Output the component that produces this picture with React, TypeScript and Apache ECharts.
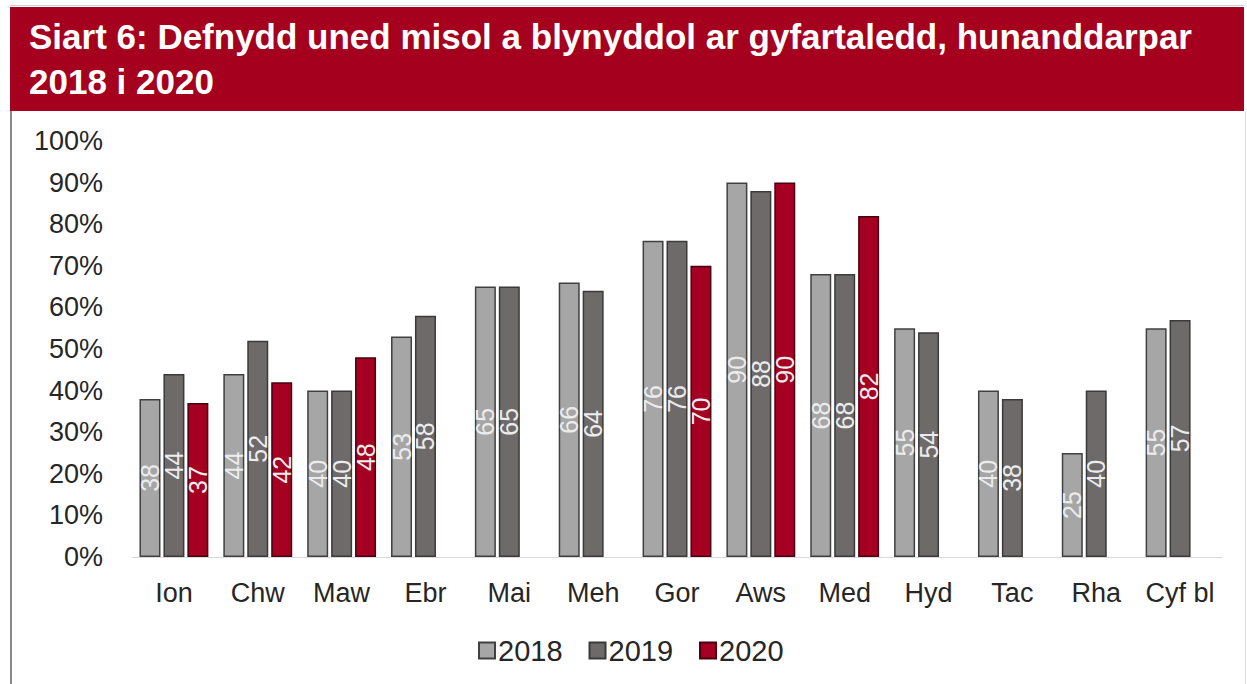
import React, { useEffect, useRef } from "react";
import * as echarts from "echarts";

const categories = ["Ion", "Chw", "Maw", "Ebr", "Mai", "Meh", "Gor", "Aws", "Med", "Hyd", "Tac", "Rha", "Cyf bl"];
const values2018 = [38, 44, 40, 53, 65, 66, 76, 90, 68, 55, 40, 25, 55];
const values2019 = [44, 52, 40, 58, 65, 64, 76, 88, 68, 54, 38, 40, 57];
const values2020: (number | null)[] = [37, 42, 48, null, null, null, 70, 90, 82, null, null, null, null];
const yTicks = { min: 0, max: 100, interval: 10 };
const titleText = "Siart 6: Defnydd uned misol a blynyddol ar gyfartaledd, hunanddarpar\n2018 i 2020";

const FONT = "'Liberation Sans', Arial, sans-serif";

export default function App() {
  const ref = useRef<HTMLDivElement>(null);
  useEffect(() => {
    if (!ref.current) return;
    const chart = echarts.init(ref.current, null, { renderer: "svg" });
    const label = {
      show: true,
      position: "inside" as const,
      rotate: 90,
      color: "#ececec",
      fontSize: 25,
      fontFamily: FONT,
      formatter: (p: any) => String(p.value),
    };
    const mk = (name: string, data: (number | null)[], color: string, border: string) => ({
      name,
      type: "bar" as const,
      data,
      barWidth: 21,
      barGap: "14%",
      itemStyle: { color, borderColor: border, borderWidth: 1.5 },
      label,
    });
    chart.setOption({
      animation: false,
      textStyle: { fontFamily: FONT },
      graphic: [
        { type: "rect", shape: { x: 10, y: 7, width: 1234, height: 104 }, style: { fill: "#a5001e" }, z: 10 },
        { type: "line", shape: { x1: 10, y1: 5.5, x2: 1244, y2: 5.5 }, style: { stroke: "#d0d0d0", lineWidth: 1 } },
        { type: "line", shape: { x1: 11, y1: 111, x2: 11, y2: 684 }, style: { stroke: "#8a8a8a", lineWidth: 2 } },
        { type: "line", shape: { x1: 1245.5, y1: 111, x2: 1245.5, y2: 684 }, style: { stroke: "#e0e0e0", lineWidth: 1 } },
        {
          type: "text",
          x: 29,
          y: 14,
          z: 11,
          style: {
            text: titleText,
            fill: "#ffffff",
            font: `bold 35px ${FONT}`,
            lineHeight: 45,
          },
        },
      ],
      legend: {
        left: 473,
        top: 631,
        itemWidth: 16,
        itemHeight: 16,
        itemGap: 26,
        textStyle: { fontSize: 29, color: "#262626", fontFamily: FONT, padding: [0, 0, 0, -2] },
        data: ["2018", "2019", "2020"],
        icon: "rect",
      },
      grid: { left: 132, right: 25, top: 141, bottom: 127, containLabel: false },
      xAxis: {
        type: "category",
        data: categories,
        axisLine: { lineStyle: { color: "#d9d9d9", width: 1 } },
        axisTick: { show: false },
        axisLabel: { fontSize: 27, color: "#262626", margin: 22, fontFamily: FONT, interval: 0 },
      },
      yAxis: {
        type: "value",
        min: yTicks.min,
        max: yTicks.max,
        interval: yTicks.interval,
        splitLine: { show: false },
        axisLine: { show: false },
        axisTick: { show: false },
        axisLabel: { fontSize: 27, color: "#262626", margin: 29, formatter: "{value}%", fontFamily: FONT },
      },
      series: [
        mk("2018", values2018, "#a6a6a6", "#404040"),
        mk("2019", values2019, "#6e6a6a", "#3a3a3a"),
        mk("2020", values2020, "#a50021", "#4a0010"),
      ],
    });
    return () => chart.dispose();
  }, []);
  return <div ref={ref} style={{ position: "fixed", left: 0, top: 0, width: 1247, height: 684, background: "#fff" }} />;
}
